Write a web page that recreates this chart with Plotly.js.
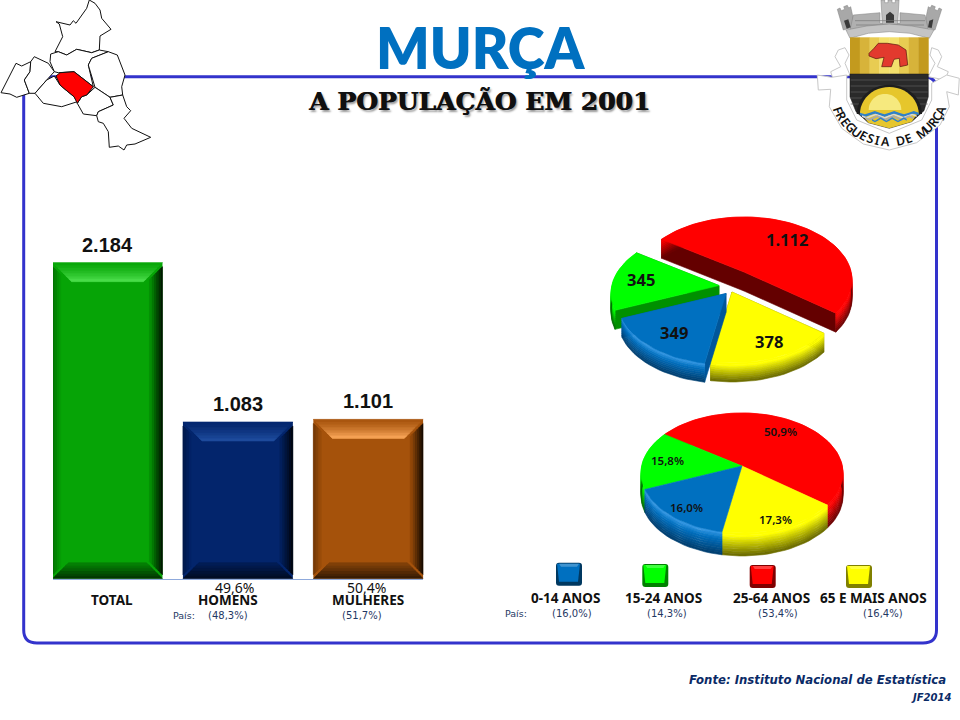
<!DOCTYPE html>
<html><head><meta charset="utf-8">
<script src="https://cdn.plot.ly/plotly-3.0.1.min.js"></script>
<style>html,body{margin:0;padding:0;background:#fff}#chart{width:960px;height:720px}</style>
</head><body><div id="chart"></div>
<script>
// ---------- data ----------
const barCategories = ['TOTAL', 'HOMENS', 'MULHERES'];
const barValues = [2184, 1083, 1101];
const barColors = ['#06A406', '#03256C', '#A5520B'];
const barHighlights = ['#48DC48', '#1E4B9C', '#F5A254'];
const sexShare = ['49,6%', '50,4%'];
const sexCountry = ['(48,3%)', '(51,7%)'];
const ageCategories = ['0-14 ANOS', '15-24 ANOS', '25-64 ANOS', '65 E MAIS ANOS'];
const ageValues = [349, 345, 1112, 378];
const agePercent = [16.0, 15.8, 50.9, 17.3];
const ageCountry = ['(16,0%)', '(14,3%)', '(53,4%)', '(16,4%)'];
const ageColors = ['#0070C0', '#00FF00', '#FF0000', '#FFFF00'];
const ageRimLight = ['#3C9EEA', '#00FF00', '#FF0000', '#FFFF00'];
const ageRimDark = ['#003C6C', '#006400', '#640000', '#666600'];
const ageCut = ['#00569A', '#009000', '#640000', '#808000'];

// ---------- helpers ----------
const pt = v => Math.floor(v).toString().replace(/\B(?=(\d{3})+$)/g, '.');
const hex = c => [1,3,5].map(i => parseInt(c.substr(i,2),16));
const mix = (a,b,t) => { const A=hex(a),B=hex(b); return '#'+A.map((v,i)=>Math.round(v+(B[i]-v)*t).toString(16).padStart(2,'0')).join(''); };
const traces = [];
function poly(xs, ys, color, xa, ya) {
  traces.push({type:'scatter', mode:'lines', x:[...xs, xs[0]], y:[...ys, ys[0]], fill:'toself', fillcolor:color,
    line:{width:0.6, color:color}, hoverinfo:'skip', showlegend:false, xaxis:xa, yaxis:ya});
}

// ---------- bars ----------
const barWidth = 0.843, xPx = 130.4, yPx = 0.14469;
traces.push({type:'bar', x:[0,1,2], y:barValues, width:barWidth, marker:{color:barColors, line:{width:0}},
  hoverinfo:'skip', showlegend:false, xaxis:'x', yaxis:'y'});
barValues.forEach((v,k) => {
  const L = k - barWidth/2, R = k + barWidth/2;
  const X = px => px / xPx, Y = px => px / yPx;
  const base = barColors[k], hi = barHighlights[k];
  const dark = mix(base,'#000000',0.75);
  const band = (i,n) => [i/n,(i+1)/n];
  // side bevels
  for (let i=0,n=5;i<n;i++){ const [a,b]=band(i,n), w=8;
    poly([L+X(a*w),L+X(b*w),L+X(b*w),L+X(a*w)],[v-Y(a*w+4),v-Y(b*w+4),Y(b*w+4),Y(a*w+4)],mix(base,'#000000',0.3*(1-a)),'x','y');
  }
  for (let i=0,n=6;i<n;i++){ const [a,b]=band(i,n), w=13;
    poly([R-X(a*w),R-X(b*w),R-X(b*w),R-X(a*w)],[v-Y(a*w+4),v-Y(b*w+4),Y(b*w+4),Y(a*w+4)],mix(base,'#000000',0.85*(1-a)),'x','y');
  }
  // top bevel
  for (let i=0,n=7;i<n;i++){ const [a,b]=band(i,n), d=19;
    poly([L+X(a*d),R-X(a*d),R-X(b*d),L+X(b*d)],[v-Y(a*d),v-Y(a*d),v-Y(b*d),v-Y(b*d)],mix(base,hi,Math.pow(b,1.5)),'x','y');
  }
  // bottom bevel
  for (let i=0,n=6;i<n;i++){ const [a,b]=band(i,n), d=16;
    poly([L+X(a*d),R-X(a*d),R-X(b*d),L+X(b*d)],[Y(a*d),Y(a*d),Y(b*d),Y(b*d)],mix(dark,base,b*0.7),'x','y');
  }
});

// ---------- 3D pies ----------
function warp(phi, c){
  const x=Math.cos(phi), y=Math.sin(phi), d=(1+c*y)*(1+c*y)+c*x*c*x;
  return [(x*(1+c*y)-(y+c)*(c*x))/d, (x*(c*x)+(y+c)*(1+c*y))/d];
}
function drawPie(values, opt){
  const total = values.reduce((a,b)=>a+b,0);
  const c = opt.c;
  const s0 = warp(opt.start*Math.PI/180, -c);
  let phi = Math.atan2(s0[1], s0[0]);
  const slices = values.map((v,i)=>{
    const d = 2*Math.PI*v/total, pts=[];
    const n = Math.max(8,Math.round(v/total*120));
    for(let j=0;j<=n;j++) pts.push(warp(phi-d*j/n, c));
    phi -= d;
    return {i, pts};
  });
  opt.order.forEach(i=>{
    const [ox,oy] = opt.offset[i], cx=opt.cx+ox, cy=opt.cy+oy, ex=p=>cx+opt.a*p[0], ey=p=>cy-opt.b*p[1];
    const ax=cx, ay=cy-opt.e*opt.b, arc=slices[i].pts, D=opt.depth;
    const xs=arc.map(ex), ys=arc.map(ey);
    if(opt.cut){
      [0,arc.length-1].forEach(q=>{
        poly([ax,xs[q],xs[q],ax],[ay,ys[q],ys[q]+D,ay+D],ageCut[i],'x2','y2');
      });
    }
    const n=10;
    for(let k=0;k<n;k++){
      const d0=D*k/n, d1=D*(k+1)/n, t=(k+0.5)/n, lt=i===0?0.3:0.15;
      const col = t<lt ? mix(ageRimLight[i],ageColors[i],t/lt) : mix(ageColors[i],ageRimDark[i],(t-lt)/(1-lt));
      poly([...xs,...xs.slice().reverse()],[...ys.map(y=>y+d0),...ys.slice().reverse().map(y=>y+d1)],col,'x2','y2');
    }
    poly([ax,...xs],[ay,...ys],ageColors[i],'x2','y2');
  });
}
drawPie(ageValues,{cx:732,cy:290,a:108,b:63,e:0.127,c:0.0636,start:258.6,depth:19,cut:true,
  offset:[[-6,11.5],[-13,3.5],[12,-10],[0,10]],order:[2,1,3,0]});
drawPie(agePercent,{cx:742,cy:473,a:101,b:60,e:0.117,c:0.0587,start:258.6,depth:23,cut:false,
  offset:[[0,0],[0,0],[0,0],[0,0]],order:[2,1,3,0]});

// ---------- decoration shapes ----------
const shapes=[];
const sh=(d,fill,line,w)=>shapes.push({type:'path',xref:'x2',yref:'y2',path:d,fillcolor:fill||'rgba(0,0,0,0)',
  line:{color:line||'rgba(0,0,0,0)',width:w===undefined?1:w},layer:'above'});
const zp=(arr,ox=0,oy=0)=>'M '+arr.map(p=>(ox+p[0]/3).toFixed(1)+','+(oy+p[1]/3).toFixed(1)).join(' L ')+' Z';

// frame
sh('M 36,76.7 L 924,76.7 Q 936.5,76.7 936.5,90 L 936.5,630 Q 936.5,643 923,643 L 37,643 Q 23.7,643 23.7,630 L 23.7,90 Q 23.7,76.7 36,76.7 Z',null,'#3333CC',3);

// map of the municipality
const mapW='#FFFFFF', mapL='#111111';
[
 [[268,0],[285,10],[300,30],[305,55],[333,88],[300,108],[298,150],[275,158],[230,148],[200,165],[175,155],[165,155],[188,110],[178,72],[168,65],[210,75],[220,62],[228,70],[260,25]],
 [[150,185],[152,162],[175,155],[200,165],[230,148],[275,158],[298,150],[325,155],[275,175],[265,195],[280,260],[222,215],[175,218],[163,215]],
 [[325,155],[352,165],[375,225],[365,260],[368,285],[330,292],[285,262],[265,195],[275,175]],
 [[92,185],[90,215],[73,240],[88,280],[50,292],[30,282],[3,278],[48,190],[65,198]],
 [[103,170],[145,190],[163,215],[140,240],[105,280],[88,280],[73,240],[90,215],[92,185]],
 [[163,228],[180,255],[195,268],[222,290],[232,305],[185,320],[130,310],[105,280],[140,240]],
 [[285,262],[330,292],[340,315],[295,335],[290,347],[250,342],[232,310],[245,290],[260,285]],
 [[368,285],[380,320],[392,332],[372,355],[395,385],[452,412],[405,432],[380,435],[372,450],[355,438],[328,442],[325,395],[310,370],[295,365],[290,347],[295,335],[340,315],[330,292]]
].forEach(r=>sh(zp(r),mapW,mapL,1));
sh(zp([[168,228],[180,218],[222,215],[280,260],[260,285],[245,290],[232,310],[222,290],[195,268],[180,255]]),'#FF0000',mapL,1);

// coat of arms (zoomed coordinates offset to x=800)
const cz=a=>zp(a,800,0);
const gray='#A8A8A8', gl='#C8C8C8', gd='#7E7E7E';
// scroll and mantling
sh(cz([[115,150],[135,143],[147,165],[135,190],[150,225],[100,240],[92,215],[122,200],[105,170]]),'#FFFFFF',gl,1);
sh(cz([[415,150],[395,143],[390,165],[405,190],[385,230],[435,240],[445,215],[412,200],[425,170]]),'#FFFFFF',gl,1);
sh(cz([[52,225],[95,232],[140,225],[140,300],[170,360],[268,400],[365,360],[395,300],[395,250],[440,225],[478,235],[475,285],[440,275],[448,320],[420,375],[350,428],[268,450],[190,432],[125,385],[88,320],[92,268],[55,270]]),'#FFFFFF',gl,1);
// crown
sh(cz([[112,28],[120,24],[124,32],[134,28],[131,20],[142,16],[146,24],[152,20],[165,80],[130,90]]),gray,gd,0.5);
sh(cz([[425,28],[417,24],[413,32],[403,28],[406,20],[395,16],[391,24],[385,20],[372,80],[405,90]]),gray,gd,0.5);
sh(cz([[160,45],[240,38],[240,70],[300,70],[300,38],[375,45],[385,90],[150,90]]),'#B0B0B0',gd,0.5);
sh(cz([[243,0],[254,0],[254,8],[264,8],[264,0],[276,0],[276,8],[286,8],[286,0],[297,0],[293,72],[247,72]]),'#BEBEBE',gd,0.5);
sh(cz([[258,45],[270,35],[282,45],[282,68],[258,68]]),'#3A3A3A');
sh(cz([[132,62],[145,58],[152,82],[140,86]]),'#3A3A3A');
sh(cz([[388,62],[400,58],[395,84],[384,82]]),'#3A3A3A');
[[165,62,375,62],[168,75,372,75]].forEach(l=>sh(`M ${800+l[0]/3},${l[1]/3} L ${800+l[2]/3},${l[3]/3}`,null,'#7A7A7A',0.7));
sh(cz([[138,90],[200,78],[268,72],[335,78],[402,90],[388,115],[330,100],[268,95],[205,100],[150,115]]),'#C4C4C4',gd,0.5);
// shield upper gold (strips)
const goldStrips=['#C39A1E','#D7B33A','#E8CC52','#F3E06C','#F3E06C','#E8CC52','#D7B33A','#C39A1E'];
goldStrips.forEach((g,i)=>{const x0=150+i*235/8,x1=x0+235/8+1;sh(cz([[x0,112],[x1,112],[x1,225],[x0,225]]),g,g,0);});
// shield lower
const lower=[[150,222],[385,222],[385,290],[372,332],[335,365],[268,385],[205,368],[168,335],[150,290]];
sh(cz(lower),'#2A2A2A','#1A1A1A',0.5);
[240,258,276,294,312].forEach(y=>sh(`M ${800+152/3},${y/3} L ${800+383/3},${y/3}`,null,'#5C5C5C',0.7));
[175,200,225,250,275,300,325,350,375].forEach(x=>sh(`M ${800+x/3},${229/3} h 2.4`,null,'#D8B93C',1.4));
// sun with arch
const sun=[];for(let a=0;a<=24;a++){const t=Math.PI*a/24;sun.push([268-98*Math.cos(t),342-88*Math.sin(t)]);}
sh(cz(sun),'#1E1E1E');
const sun2=sun.map(p=>[268+(p[0]-268)*0.9,342+(p[1]-342)*0.92]);
sh(cz(sun2),'#E6C62C');
const sun3=sun.map(p=>[255+(p[0]-268)*0.5,330+(p[1]-342)*0.55]);
sh(cz(sun3),'#F6E97E');
// waves
const wave=(y,h,hw)=>{const top=[],bot=[];for(let x=0;x<=12;x++){const X=268-hw+x*2*hw/12;top.push([X,y+5*Math.sin(x*1.57)]);bot.unshift([X,y+h+5*Math.sin(x*1.57)]);}return top.concat(bot);};
sh(cz([[180,335],[356,335],[335,365],[268,385],[205,368]]),'#E6C62C');
sh(cz(wave(338,8,88)),'#2F80C8');sh(cz(wave(346,5,82)),'#D8D8D8');sh(cz(wave(351,6,72)),'#A9A9A9');
sh(cz(wave(357,5,52)),'#2F80C8');
// bear
sh(cz([[207,160],[222,145],[235,130],[262,130],[295,135],[318,150],[323,195],[300,200],[298,175],[282,178],[274,200],[245,200],[252,172],[228,176],[207,168]]),'#E23A2E','#5A1A10',0.7);

// ---------- text ----------
const ann=[];
function T(text,x,y,size,color,o={}){
  ann.push({text,x:x/960,y:1-y/720,xref:'paper',yref:'paper',showarrow:false,xanchor:o.anchor||'center',yanchor:'middle',
    font:{family:o.family||'Noto Sans',size,color,weight:o.weight||400,style:o.style||'normal',shadow:o.shadow||'none'},
    textangle:o.angle||0,align:'center',captureevents:false});
}
// bar value labels, anchored to the bars through the axes
barValues.forEach((v,k)=>ann.push({text:pt(v),x:k,y:v,xref:'x',yref:'y',showarrow:false,yanchor:'bottom',yshift:5,
  font:{family:'Liberation Sans',size:20,color:'#111',weight:700},captureevents:false}));
T('MURÇA',481,48,56,'#0070C0',{family:'Lato',weight:800});
T('A POPULAÇÃO EM 2001',479,102,25,'#101010',{family:'DejaVu Serif',weight:700,shadow:'0.8px 0 0 #101010, 2px 2px 2px #999999'});
// bars categories
const catX=[111.7,228.3,368.3];
barCategories.forEach((c,i)=>T(c,catX[i],600,13.5,'#111',{weight:700}));
T(sexShare[0],234.3,587,14,'#111');T(sexShare[1],366.7,587,14,'#111');
T('País:',184,615,9.5,'#1F3864',{family:'DejaVu Sans'});
T(sexCountry[0],227.7,615,10,'#1F3864',{family:'DejaVu Sans'});
T(sexCountry[1],361.7,615,10,'#1F3864',{family:'DejaVu Sans'});
// pie labels
const topLab=[[674,332],[641,280],[787,240],[769,341]];
ageValues.forEach((v,i)=>T(pt(v),topLab[i][0],topLab[i][1],16.5,'#111',{weight:700}));
const botLab=[[686.7,507.3],[667,460.7],[780.7,431.7],[775,519]];
agePercent.forEach((v,i)=>T(v.toFixed(1).replace('.',',')+'%',botLab[i][0],botLab[i][1],11.5,'#111',{weight:600}));
// legend text
const legX=[565.7,663.5,771.5,873.3], legC=[572,667,778.3,883.3];
ageCategories.forEach((c,i)=>{T(c,legX[i],597.5,13.5,'#111',{weight:700});T(ageCountry[i],legC[i],613.7,10,'#1F3864',{family:'DejaVu Sans'});});
T('País:',516.3,613.7,9.5,'#1F3864',{family:'DejaVu Sans'});
// legend swatches
const swatch=[[556,562.7],[642.3,564],[749.7,565],[846,565]];
swatch.forEach((s,i)=>{
  const [x,y]=s,w=26,h=23,c=ageColors[i];
  sh(`M ${x+3},${y} L ${x+w-3},${y} Q ${x+w},${y} ${x+w},${y+3} L ${x+w},${y+h-3} Q ${x+w},${y+h} ${x+w-3},${y+h} L ${x+3},${y+h} Q ${x},${y+h} ${x},${y+h-3} L ${x},${y+3} Q ${x},${y} ${x+3},${y} Z`,mix(c,'#000000',0.5));
  sh(`M ${x+1},${y+1} L ${x+w-2},${y+1} L ${x+w-4},${y+h-4} L ${x+3},${y+h-4} Z`,c);
  sh(`M ${x+3},${y+1} L ${x+w-3},${y+1} L ${x+w-5},${y+4} L ${x+5},${y+4} Z`,mix(c,'#FFFFFF',0.25));
});
T('Fonte: Instituto Nacional de Estatística',948,680,11.7,'#0A2A66',{family:'DejaVu Sans',weight:700,style:'italic',anchor:'right'});
T('JF2014',953,697,10,'#0A2A66',{family:'DejaVu Sans',weight:700,style:'italic',anchor:'right'});
// crest lettering along the scroll
const crest='FREGUESIA DE MURÇA';
[...crest].forEach((ch,i)=>{
  if(ch===' ')return;
  const th=160-(160-20)*i/(crest.length-1), r=th*Math.PI/180;
  T(ch,800+268/3+54.3*Math.cos(r),93.7+48*Math.sin(r),12.5,'#111',{weight:600,angle:th-90});
});

const layout={
  width:960,height:720,margin:{l:0,r:0,t:0,b:0},paper_bgcolor:'#fff',plot_bgcolor:'rgba(0,0,0,0)',showlegend:false,
  xaxis:{domain:[53/960,423.4/960],range:[-0.418,2.4225],showline:true,linecolor:'#8FAADC',linewidth:1,showgrid:false,zeroline:false,showticklabels:false,ticks:'',fixedrange:true,anchor:'y'},
  yaxis:{domain:[1-578.7/720,1-231.4/720],range:[0,2400],showline:false,showgrid:false,zeroline:false,showticklabels:false,ticks:'',fixedrange:true,anchor:'x'},
  xaxis2:{domain:[0,1],range:[0,960],visible:false,fixedrange:true,anchor:'y2'},
  yaxis2:{domain:[0,1],range:[720,0],visible:false,fixedrange:true,anchor:'x2'},
  shapes,annotations:ann
};
Plotly.newPlot('chart',traces,layout,{staticPlot:true,displayModeBar:false});
</script></body></html>
